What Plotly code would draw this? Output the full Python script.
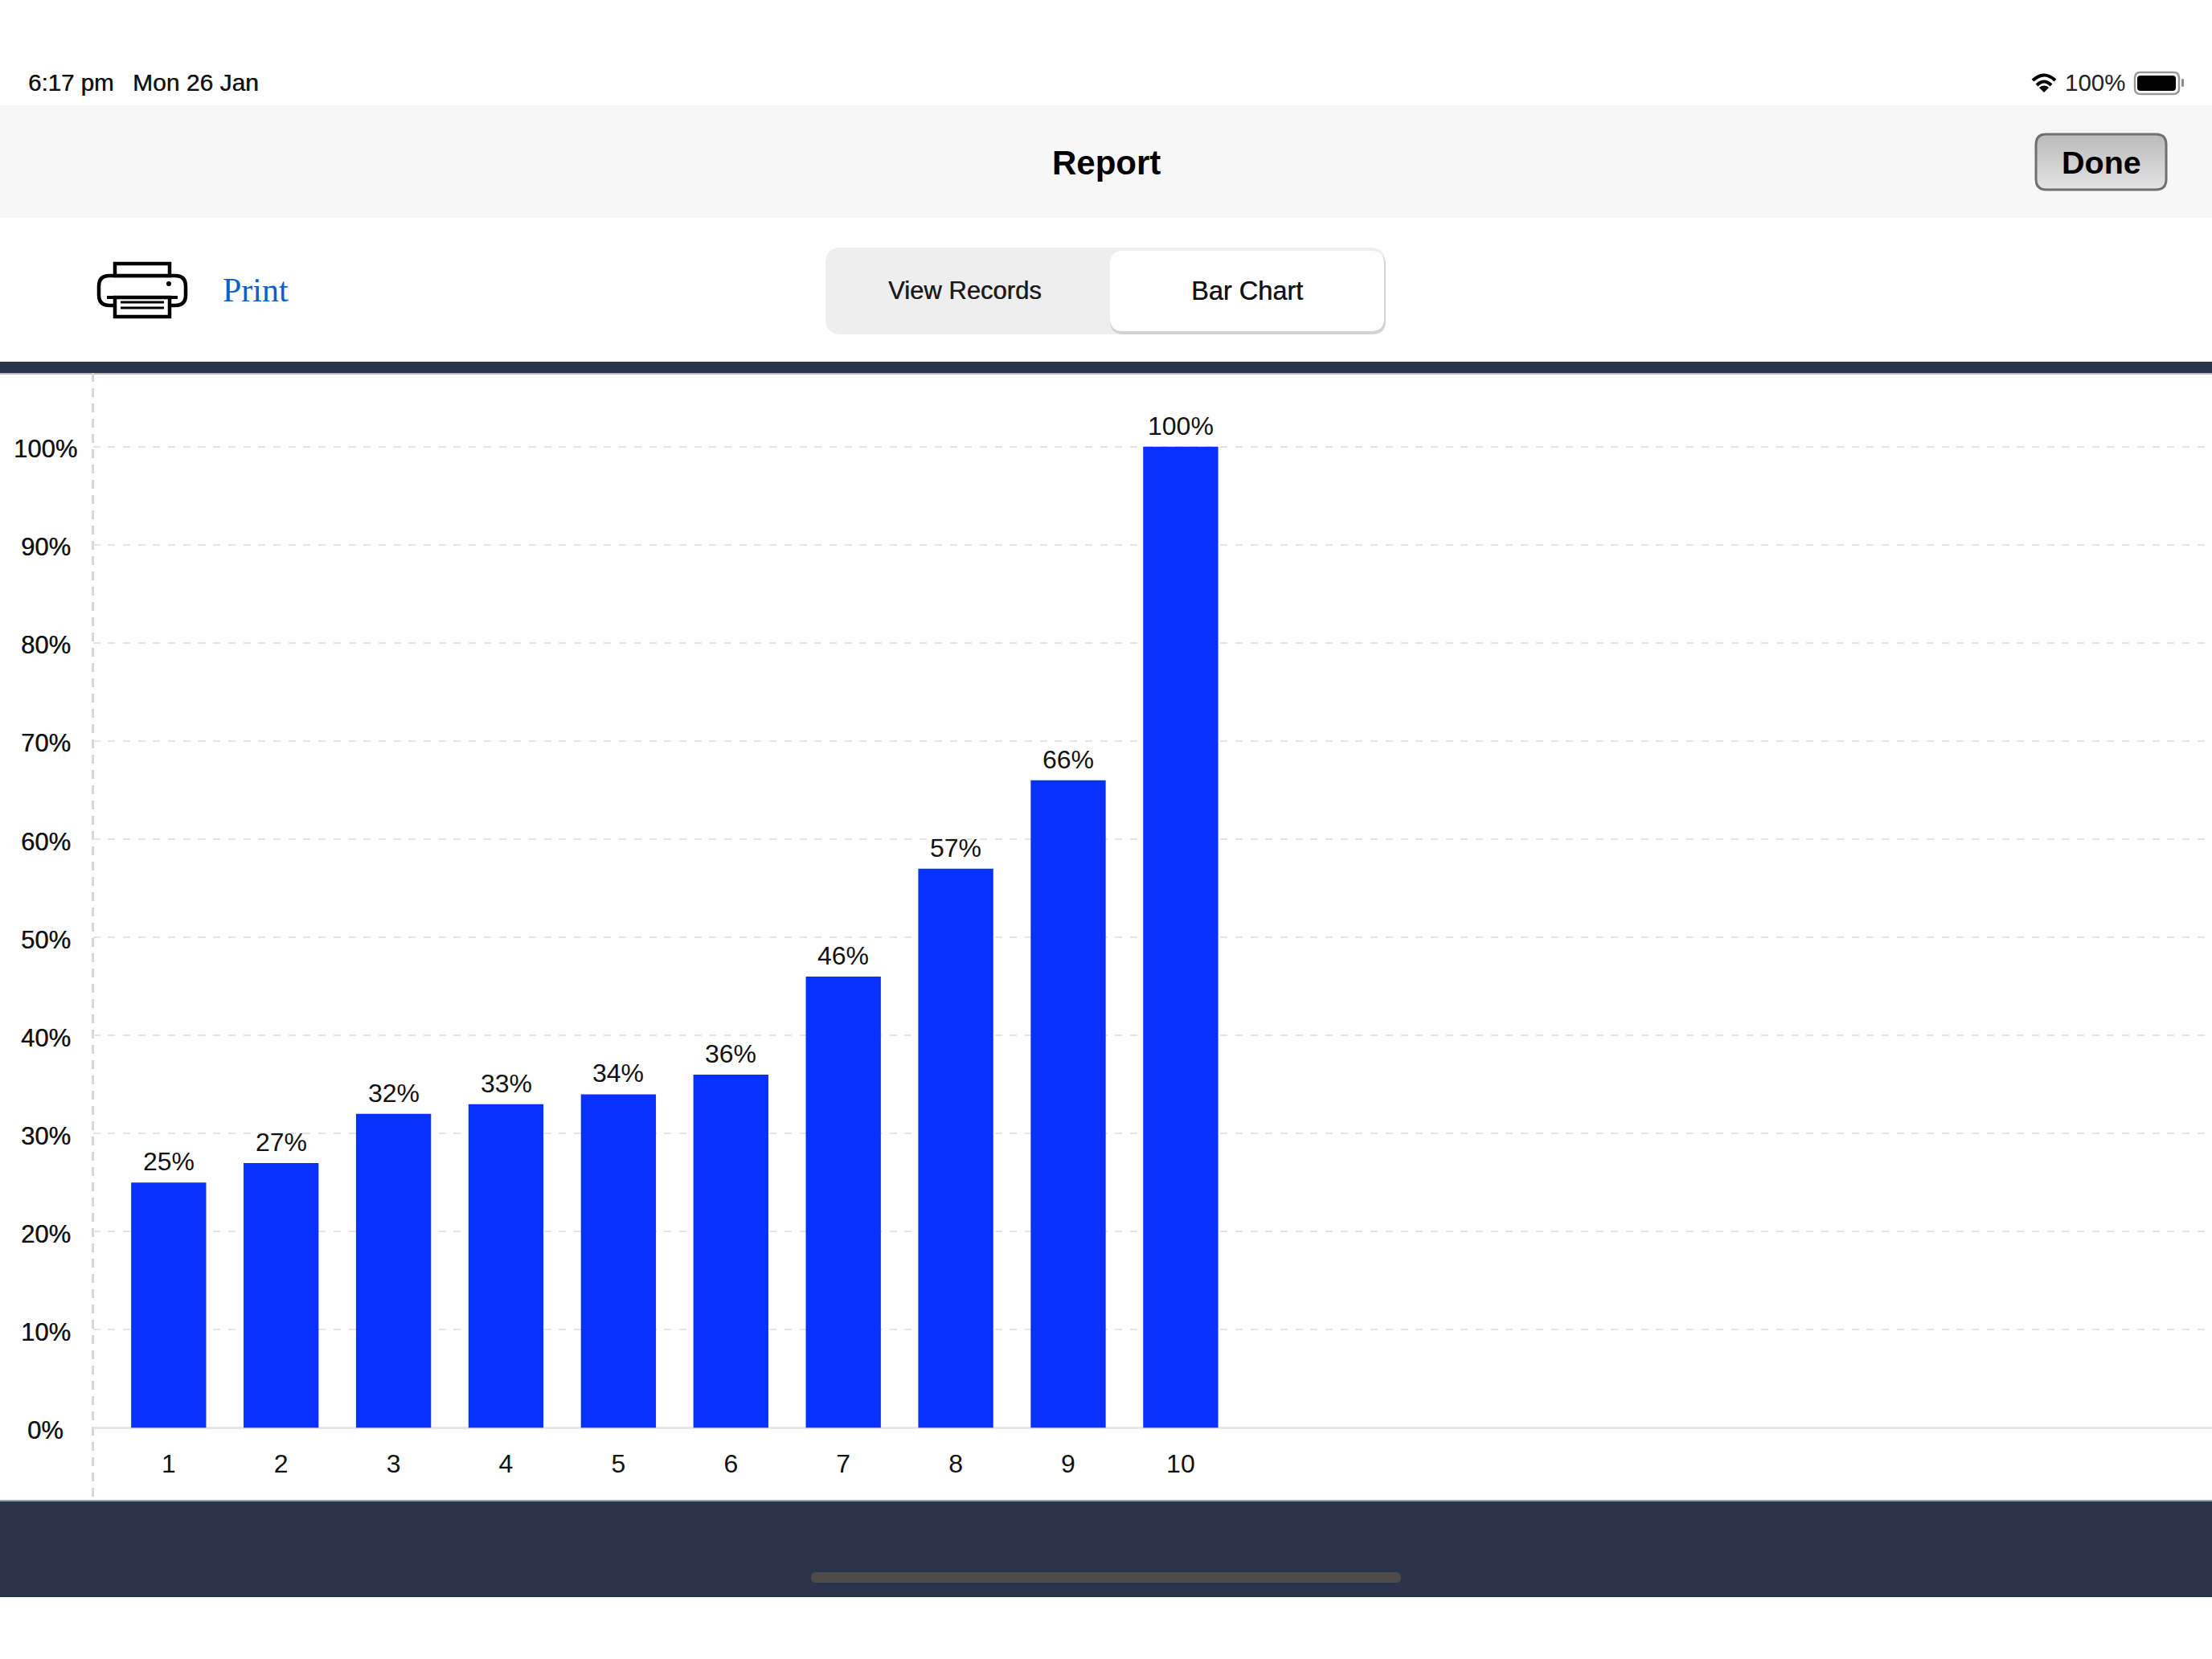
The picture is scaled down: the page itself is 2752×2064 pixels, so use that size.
import plotly.graph_objects as go

# Bar chart data
categories = [1, 2, 3, 4, 5, 6, 7, 8, 9, 10]
percent_values = [25, 27, 32, 33, 34, 36, 46, 57, 66, 100]
y_ticks = [0, 10, 20, 30, 40, 50, 60, 70, 80, 90, 100]

# Screen text
clock_text = "6:17 pm"
date_text = "Mon 26 Jan"
battery_text = "100%"
title_text = "Report"
done_text = "Done"
print_text = "Print"
tab_labels = ["View Records", "Bar Chart"]

W, H = 2752, 2064
SANS = "Liberation Sans, Arial, sans-serif"
SERIF = "Liberation Serif, Times New Roman, serif"
NAVY = "#293349"
BAR_BLUE = "#0830ff"
AXIS_LEFT, AXIS_TOP, AXIS_BOTTOM = 115.6, 464, 1776.5
UNIT_PX = 12.208
BAR_PITCH = 139.9
FIRST_BAR_CENTER = 209.8
# A faint horizontal shadow thickens the regular weight to a medium look
MEDIUM = "0.6px 0 0 rgba(20,20,20,0.75)"


def fx(x):
    return x / W


def fy(y):
    return 1 - y / H


def path_str(points):
    """Build an SVG path in paper coordinates; numbers pair up as pixel x, y."""
    out = []
    for p in points:
        if isinstance(p, str):
            out.append(p)
        else:
            out.append(f"{fx(p[0]):.6f},{fy(p[1]):.6f}")
    return " ".join(out)


def rect(x0, y0, x1, y1, fill, line=None, width=0):
    return dict(type="rect", xref="paper", yref="paper", x0=fx(x0), x1=fx(x1), y0=fy(y0), y1=fy(y1),
                fillcolor=fill, line=dict(color=line or fill, width=width), layer="below")


def rounded_path(x0, y0, x1, y1, r):
    return (f"M {fx(x0 + r):.6f},{fy(y0):.6f} L {fx(x1 - r):.6f},{fy(y0):.6f} "
            f"Q {fx(x1):.6f},{fy(y0):.6f} {fx(x1):.6f},{fy(y0 + r):.6f} "
            f"L {fx(x1):.6f},{fy(y1 - r):.6f} Q {fx(x1):.6f},{fy(y1):.6f} {fx(x1 - r):.6f},{fy(y1):.6f} "
            f"L {fx(x0 + r):.6f},{fy(y1):.6f} Q {fx(x0):.6f},{fy(y1):.6f} {fx(x0):.6f},{fy(y1 - r):.6f} "
            f"L {fx(x0):.6f},{fy(y0 + r):.6f} Q {fx(x0):.6f},{fy(y0):.6f} {fx(x0 + r):.6f},{fy(y0):.6f} Z")


def rounded(x0, y0, x1, y1, r, fill="rgba(0,0,0,0)", line=None, width=0, layer="below"):
    return dict(type="path", xref="paper", yref="paper", path=rounded_path(x0, y0, x1, y1, r),
                fillcolor=fill, line=dict(color=line or "rgba(0,0,0,0)", width=width), layer=layer)


def stroke(points, color="#000000", width=4, layer="below"):
    return dict(type="path", xref="paper", yref="paper", path=path_str(points),
                line=dict(color=color, width=width), fillcolor="rgba(0,0,0,0)", layer=layer)


shapes = [
    # Header bar and navy bands
    rect(0, 131, W, 271, "#f7f7f7"),
    rect(0, 450, W, 464, NAVY),
    rect(0, 464, W, 466, "#b4b8c0"),
    rect(0, 1868, W, 1987, NAVY),
    rect(0, 1866, W, 1868, "#9a9ea8"),
    rounded(1009, 1956, 1743, 1969, 6, fill="#4d4b49"),
    # Vertical dashed line at the left of the plot
    dict(type="line", xref="paper", yref="paper", x0=fx(AXIS_LEFT), x1=fx(AXIS_LEFT),
         y0=fy(AXIS_TOP), y1=fy(1868), line=dict(color="#d6d6d6", width=3, dash="11px,8px"), layer="below"),
    # Segmented control
    rounded(1027, 308, 1724, 416, 20, fill="#eeeeee"),
    rounded(1381, 314, 1724, 416, 17, fill="#d2d2d2"),
    rounded(1381, 312, 1722, 412, 16, fill="#ffffff"),
]

# Done button: outline, then a top-to-bottom gradient built from thin strips
BX0, BY0, BX1, BY1, BR = 2533, 167, 2695, 236, 13
shapes.append(rounded(BX0, BY0, BX1, BY1, BR, fill="#d0d0d0"))
strip_count = BY1 - BY0
for i in range(strip_count):
    t = i / (strip_count - 1)
    shade = int(0xbb + (0xe4 - 0xbb) * t)
    top = BY0 + i
    dist = max(BY0 + BR - top, top + 1 - (BY1 - BR), 0)
    inset = BR - (BR ** 2 - min(dist, BR) ** 2) ** 0.5
    shapes.append(rect(BX0 + inset, top, BX1 - inset, top + 1, f"rgb({shade},{shade},{shade})"))
shapes.append(rounded(BX0, BY0, BX1, BY1, BR, line="#707070", width=3))

# Printer icon
shapes += [
    rounded(123, 343, 231, 380, 13, line="#000000", width=4.5),
    rect(143, 328, 211, 343, "#ffffff", "#000000", 4.5),
    rect(143, 370, 211, 394, "#ffffff", "#000000", 4.5),
    stroke(["M", (133, 370), "L", (221, 370)], width=4),
    stroke(["M", (150, 376), "L", (204, 376)], width=3),
    stroke(["M", (150, 383), "L", (204, 383)], width=3),
    dict(type="circle", xref="paper", yref="paper", x0=fx(207), x1=fx(213), y0=fy(350), y1=fy(356),
         fillcolor="#000000", line=dict(width=0), layer="below"),
]

# Wi-Fi glyph
shapes += [
    stroke(["M", (2529, 100), "Q", (2543, 87), (2557, 100)], width=4),
    stroke(["M", (2534, 106), "Q", (2543, 97), (2552, 106)], width=4),
    dict(type="path", xref="paper", yref="paper",
         path=path_str(["M", (2543, 115), "L", (2537, 109), "Q", (2543, 104), (2549, 109), "Z"]),
         fillcolor="#000000", line=dict(width=0), layer="below"),
]

# Battery glyph
shapes += [
    rounded(2656, 90, 2711, 117, 7, line="#9a9a9a", width=2.5),
    rounded(2659, 94, 2707, 113, 4, fill="#000000"),
    rounded(2714, 98, 2717, 108, 1.5, fill="#8a8a8a"),
]


def label(text, x, y, size, color="#000000", family=SANS, weight="normal", shadow="none"):
    return dict(text=text, xref="paper", yref="paper", x=fx(x), y=fy(y), xanchor="center", yanchor="middle",
                showarrow=False, font=dict(family=family, size=size, color=color, weight=weight, shadow=shadow))


annotations = [
    label(clock_text, 88, 103, 29.5, "#111111", shadow=MEDIUM),
    label(date_text, 243, 103, 30, "#111111", shadow=MEDIUM),
    label(battery_text, 2606, 103, 29.5, "#222222"),
    label(title_text, 1376, 203, 42, "#000000", weight="bold"),
    label(done_text, 2614, 202, 39.5, "#000000", weight="bold"),
    label(print_text, 318, 361, 42, "#0a5fc9", family=SERIF),
    label(tab_labels[0], 1200, 362, 31, "#1a1a1a", shadow=MEDIUM),
    label(tab_labels[1], 1551, 362, 32.5, "#111111", shadow=MEDIUM),
]

# Value-axis labels are centred in their gutter
for tick in y_ticks:
    annotations.append(dict(text=f"{tick}%", xref="paper", yref="y", x=fx(57), y=tick, xanchor="center",
                            yanchor="middle", yshift=-3, showarrow=False,
                            font=dict(family=SANS, size=31, color="#111111", shadow=MEDIUM)))

# Value labels sit a fixed distance above each bar
for cat, value in zip(categories, percent_values):
    annotations.append(dict(text=f"{value}%", xref="x", yref="y", x=cat, y=value, xanchor="center",
                            yanchor="middle", yshift=26, showarrow=False,
                            font=dict(family=SANS, size=32, color="#111111")))

fig = go.Figure(go.Bar(
    x=categories,
    y=percent_values,
    width=0.667,
    marker=dict(color=BAR_BLUE, line=dict(width=0)),
    hoverinfo="skip",
))

fig.update_layout(
    width=W,
    height=H,
    margin=dict(l=0, r=0, t=0, b=0),
    paper_bgcolor="#ffffff",
    plot_bgcolor="#ffffff",
    showlegend=False,
    shapes=shapes,
    annotations=annotations,
    xaxis=dict(
        domain=[fx(AXIS_LEFT), 1],
        range=[1 - (FIRST_BAR_CENTER - AXIS_LEFT) / BAR_PITCH, 1 + (W - FIRST_BAR_CENTER) / BAR_PITCH],
        tickmode="array",
        tickvals=categories,
        ticktext=[str(c) for c in categories],
        ticks="",
        ticklabelstandoff=22,
        tickfont=dict(family=SANS, size=32, color="#111111"),
        showgrid=False,
        zeroline=False,
        showline=False,
    ),
    yaxis=dict(
        domain=[fy(AXIS_BOTTOM), fy(AXIS_TOP)],
        range=[0, (AXIS_BOTTOM - AXIS_TOP) / UNIT_PX],
        tickmode="array",
        tickvals=y_ticks,
        showticklabels=False,
        ticks="",
        showgrid=True,
        gridcolor="#e4e4e4",
        gridwidth=2,
        griddash="9px,9.7px",
        zeroline=True,
        zerolinecolor="#e6e6e6",
        zerolinewidth=3,
        showline=False,
    ),
)

fig.write_html("out.html", config=dict(displayModeBar=False))
